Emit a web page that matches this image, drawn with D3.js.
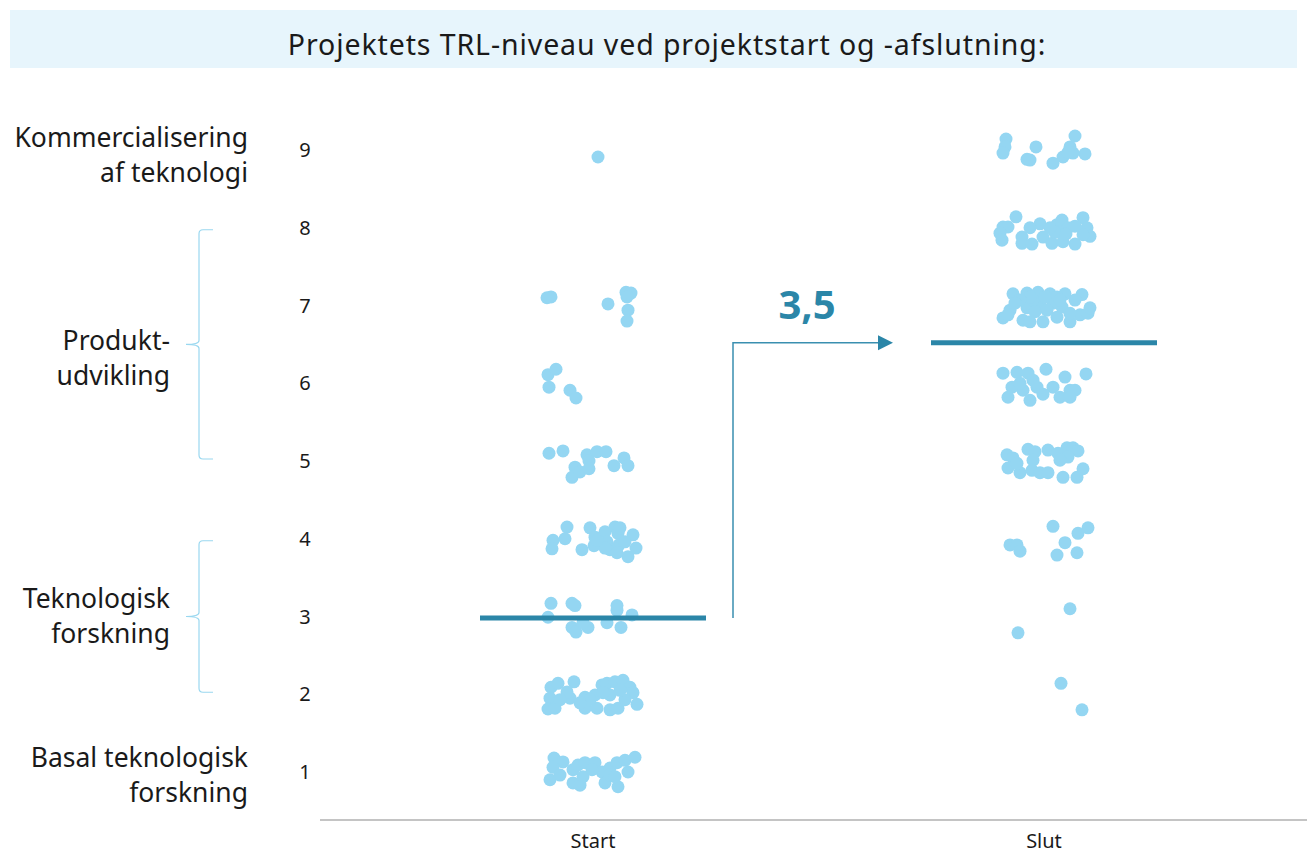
<!DOCTYPE html>
<html>
<head>
<meta charset="utf-8">
<script src="https://cdn.jsdelivr.net/npm/d3@7"></script>
<style>
  html, body { margin: 0; padding: 0; background: #fff; }
  svg { display: block; font-family: "Noto Sans", sans-serif; }
</style>
</head>
<body>
<svg id="chart" width="1307" height="853"></svg>
<script>
// TRL levels shown on the vertical axis
const levels = [1, 2, 3, 4, 5, 6, 7, 8, 9];
const columns = ["Start", "Slut"];

// Phase labels with the TRL range each one covers
const phaseNames = [
  ["Kommercialisering", "af teknologi"],
  ["Produkt-", "udvikling"],
  ["Teknologisk", "forskning"],
  ["Basal teknologisk", "forskning"]
];
const phaseFrom = [9, 5, 2, 1];
const phaseTo = [9, 8, 4, 1];

// Project TRL at start (value incl. vertical jitter) and horizontal jitter (-1..1)
const startValues = [
  8.91,
  7.10, 7.11, 7.02, 7.17, 7.16, 7.11, 6.94, 6.80,
  6.11, 6.18, 5.95, 5.91, 5.81,
  5.10, 5.13, 5.08, 5.00, 5.12, 5.12, 5.04, 4.94, 4.94, 4.92, 4.79, 4.86, 4.90,
  4.15, 3.98, 3.87, 4.00, 4.14, 3.86, 4.02, 3.91, 4.09, 4.15, 4.07, 4.05, 3.96, 3.86, 3.92, 3.96, 3.77, 3.88, 3.82, 3.88, 3.98, 4.14,
  3.17, 3.17, 3.14, 2.99, 3.14, 3.08, 3.02, 2.86, 2.80, 2.86, 2.92, 2.86, 2.92,
  2.09, 2.14, 1.95, 1.81, 1.82, 2.16, 1.95, 2.03, 1.96, 1.82, 1.99, 1.82, 2.12, 2.14, 2.16, 2.18, 2.09, 2.02, 1.87, 1.99, 1.80, 1.82, 1.93, 2.02, 1.93, 1.93, 2.05, 1.89,
  1.18, 1.13, 1.06, 0.90, 0.96, 1.03, 1.09, 1.12, 0.86, 0.83, 0.94, 1.12, 1.00, 0.86, 1.05, 1.12, 1.15, 1.19, 1.00, 0.81, 0.96, 0.94, 1.03
];
const startJitter = [
  0.10,
  -0.92, -0.84, 0.30, 0.66, 0.76, 0.68, 0.70, 0.68,
  -0.90, -0.74, -0.88, -0.46, -0.34,
  -0.88, -0.60, -0.12, -0.08, 0.08, 0.26, 0.62, 0.70, 0.42, -0.36, -0.42, -0.26, -0.08,
  -0.52, -0.80, -0.82, -0.56, -0.06, -0.22, 0.04, 0.02, 0.24, 0.44, 0.50, 0.80, 0.28, 0.34, 0.52, 0.64, 0.70, 0.86, 0.48, 0.24, 0.08, 0.54,
  -0.84, -0.42, -0.36, -0.90, 0.48, 0.48, 0.78, -0.42, -0.34, -0.10, 0.28, 0.56, -0.20,
  -0.84, -0.70, -0.86, -0.90, -0.76, -0.38, -0.46, -0.52, -0.16, -0.16, 0.04, 0.08, 0.18, 0.28, 0.44, 0.60, 0.74, 0.80, 0.88, 0.34, 0.34, 0.50, 0.64, 0.20, -0.06, -0.66, 0.54, -0.26,
  -0.78, -0.60, -0.80, -0.86, -0.66, -0.40, -0.30, -0.16, -0.40, -0.26, -0.20, 0.04, 0.18, 0.24, 0.34, 0.48, 0.64, 0.84, 0.70, 0.50, 0.34, 0.44, -0.02
];

// Project TRL at completion
const slutValues = [
  9.14, 9.04, 8.96, 9.04, 8.88, 8.87, 8.83, 8.91, 9.04, 9.18, 8.96, 8.95, 8.97,
  8.14, 8.01, 8.01, 7.93, 7.84, 7.88, 7.80, 7.79, 8.05, 7.88, 7.80, 8.04, 8.10, 7.95, 8.00, 7.82, 7.79, 8.13, 8.00, 7.89, 7.91, 7.94, 7.92, 8.00, 8.00, 8.02,
  7.15, 7.16, 7.17, 7.15, 7.15, 7.14, 6.84, 6.94, 6.81, 6.79, 6.79, 6.85, 6.79, 6.88, 6.90, 6.97, 7.03, 7.03, 6.98, 7.07, 6.94, 6.90, 7.11, 7.11, 7.07, 7.07, 6.97, 7.03, 7.11, 7.07, 6.88, 6.92,
  6.13, 6.14, 6.13, 6.18, 6.08, 6.12, 5.95, 5.91, 6.04, 5.95, 5.95, 5.82, 5.78, 5.86, 5.82, 5.91, 5.91, 5.82, 6.00,
  5.08, 5.04, 4.91, 4.85, 4.97, 5.15, 5.12, 5.01, 4.88, 4.85, 4.85, 5.14, 5.10, 5.17, 5.17, 5.13, 5.05, 4.79, 4.79, 4.90, 5.01,
  3.92, 3.92, 3.84, 4.16, 3.95, 3.79, 4.07, 4.14, 3.82,
  3.10, 2.79,
  2.14, 1.80
];
const slutJitter = [
  -0.76, -0.78, -0.82, -0.16, -0.34, -0.28, 0.18, 0.38, 0.52, 0.62, 0.58, 0.82, 0.48,
  -0.56, -0.82, -0.72, -0.88, -0.84, -0.44, -0.44, -0.24, -0.08, -0.02, 0.16, 0.26, 0.36, 0.32, 0.48, 0.38, 0.62, 0.78, 0.86, 0.92, 0.78, 0.22, 0.44, 0.12, -0.28, 0.62,
  -0.62, -0.34, -0.12, 0.12, 0.42, 0.76, -0.82, -0.68, -0.42, -0.28, -0.02, 0.26, 0.52, 0.72, 0.88, -0.34, -0.08, 0.18, 0.36, -0.22, 0.06, 0.52, -0.28, 0.26, -0.48, 0.62, 0.92, -0.58, 0.02, 0.32, -0.72, -0.18,
  -0.82, -0.54, -0.32, 0.04, 0.42, 0.84, -0.64, -0.42, -0.22, -0.14, 0.18, -0.72, -0.28, -0.02, 0.32, 0.52, 0.62, 0.52, -0.48,
  -0.74, -0.62, -0.72, -0.48, -0.54, -0.32, -0.18, -0.22, -0.24, -0.08, 0.08, 0.08, 0.28, 0.46, 0.58, 0.68, 0.48, 0.38, 0.66, 0.78, 0.32,
  -0.68, -0.54, -0.48, 0.18, 0.42, 0.26, 0.68, 0.88, 0.66,
  0.52, -0.52,
  0.34, 0.76
];

// Average TRL per column
const meanValues = [2.98, 6.52];

const danish = d3.formatLocale({ decimal: ",", thousands: ".", grouping: [3], currency: ["", " kr."] });
const fmt = danish.format(".1f");

const svg = d3.select("#chart");
const W = 1307;

const y = d3.scaleLinear().domain([1, 9]).range([772, 150]);
const x = d3.scalePoint().domain(columns).range([593, 1044]);
const jitter = d3.scaleLinear().domain([-1, 1]).range([-50, 50]);

const dotColor = "#94d6f2";
const darkBlue = "#2b86a8";
const textColor = "#1a1a1a";

// Title band
svg.append("rect")
  .attr("x", 10).attr("y", 10).attr("width", W - 20).attr("height", 58)
  .attr("fill", "#e7f5fc");
svg.append("text")
  .attr("x", 667).attr("y", 55)
  .attr("text-anchor", "middle")
  .attr("font-size", 28.5)
  .attr("letter-spacing", 0.9)
  .attr("fill", textColor)
  .text("Projektets TRL-niveau ved projektstart og -afslutning:");

// Level numbers
svg.append("g").selectAll("text")
  .data(levels).join("text")
  .attr("x", 305).attr("y", d => y(d))
  .attr("dy", "0.35em")
  .attr("text-anchor", "middle")
  .attr("font-size", 20)
  .attr("fill", textColor)
  .text(d => d);

// Phase labels, with braces for the multi-level phases
const labelShift = [5, 14, 0, 3];
phaseNames.forEach((lines, i) => {
  const span = phaseTo[i] - phaseFrom[i];
  const mid = y((phaseFrom[i] + phaseTo[i]) / 2);
  const center = mid + labelShift[i];
  const rightX = span > 0 ? 170 : 248;
  const t = svg.append("text")
    .attr("text-anchor", "end")
    .attr("font-size", 26.5)
    .attr("fill", textColor);
  lines.forEach((ln, j) => {
    t.append("tspan")
      .attr("x", rightX)
      .attr("y", center + (j === 0 ? -17.5 : 17.5) + 9)
      .text(ln);
  });
  if (span > 0) {
    const top = y(phaseTo[i]) + 2, bot = y(phaseFrom[i]) - 2;
    const bx = 199, hx = 213, tipX = 186, r = 4;
    const p = d3.path();
    p.moveTo(hx, top);
    p.lineTo(bx + r, top);
    p.quadraticCurveTo(bx, top, bx, top + r);
    p.lineTo(bx, mid - r);
    p.quadraticCurveTo(bx, mid, tipX, mid);
    p.quadraticCurveTo(bx, mid, bx, mid + r);
    p.lineTo(bx, bot - r);
    p.quadraticCurveTo(bx, bot, bx + r, bot);
    p.lineTo(hx, bot);
    svg.append("path")
      .attr("d", p.toString())
      .attr("fill", "none")
      .attr("stroke", "#9ad8f0")
      .attr("stroke-width", 1.2);
  }
});

// Baseline axis with column labels
svg.append("line")
  .attr("x1", 320).attr("x2", W).attr("y1", 820).attr("y2", 820)
  .attr("stroke", "#b0b0b0").attr("stroke-width", 1.5);
svg.append("g").selectAll("text")
  .data(columns).join("text")
  .attr("x", d => x(d)).attr("y", 848)
  .attr("text-anchor", "middle")
  .attr("font-size", 20)
  .attr("fill", textColor)
  .text(d => d);

// Dots
const pts = [];
startValues.forEach((v, i) => pts.push({ col: "Start", v, j: startJitter[i] }));
slutValues.forEach((v, i) => pts.push({ col: "Slut", v, j: slutJitter[i] }));
svg.append("g").selectAll("circle")
  .data(pts).join("circle")
  .attr("cx", d => x(d.col) + jitter(d.j))
  .attr("cy", d => y(d.v))
  .attr("r", 6.5)
  .attr("fill", dotColor);

// Mean lines
svg.append("g").selectAll("line")
  .data(columns).join("line")
  .attr("x1", (d) => x(d) - 113)
  .attr("x2", (d) => x(d) + 113)
  .attr("y1", (d, i) => y(meanValues[i]))
  .attr("y2", (d, i) => y(meanValues[i]))
  .attr("stroke", darkBlue)
  .attr("stroke-width", 5);

// Change arrow between the two means
const ax = 733, headX = 893;
const y0 = y(meanValues[0]), y1 = y(meanValues[1]);
svg.append("path")
  .attr("d", `M${ax},${y0}V${y1}H${headX - 12}`)
  .attr("fill", "none")
  .attr("stroke", "#3a8fb0")
  .attr("stroke-width", 1.5);
svg.append("path")
  .attr("d", `M${headX},${y1}L${headX - 15},${y1 - 7.5}L${headX - 15},${y1 + 7.5}Z`)
  .attr("fill", darkBlue);
svg.append("text")
  .attr("x", 807).attr("y", y1 - 24)
  .attr("text-anchor", "middle")
  .attr("font-size", 40)
  .attr("font-weight", "bold")
  .attr("fill", darkBlue)
  .text(fmt(meanValues[1] - meanValues[0]));
</script>
</body>
</html>
